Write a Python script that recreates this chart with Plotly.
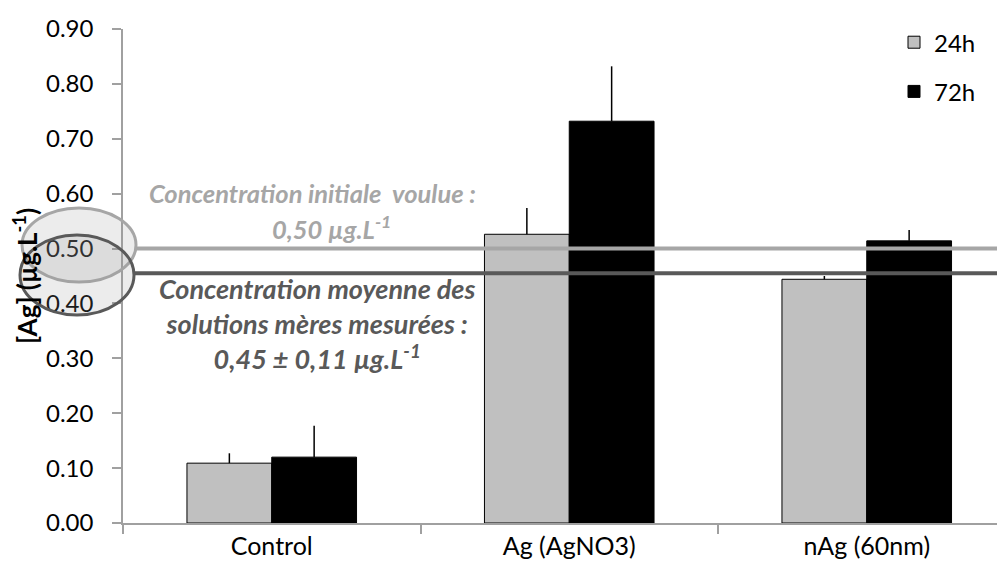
import plotly.graph_objects as go

categories = ["Control", "Ag (AgNO3)", "nAg (60nm)"]
series_names = ["24h", "72h"]
values_24h = [0.109, 0.526, 0.444]
err_24h = [0.018, 0.048, 0.006]
values_72h = [0.120, 0.732, 0.514]
err_72h = [0.057, 0.100, 0.020]
ref_target = 0.50
ref_mean = 0.455
y_ticks = [0.0, 0.1, 0.2, 0.3, 0.4, 0.5, 0.6, 0.7, 0.8, 0.9]

# page body has an 8px default margin: lay the figure out in screen pixels minus that offset
OFF = 8
W, H = 1005 - OFF, 572 - OFF
L, R, T, B = 123 - OFF, 0, 29 - OFF, 49
PW = W - L - R
PH = H - T - B


def px(x):
    return (x - OFF - L) / PW


def py(y):
    return (H - B - (y - OFF)) / PH


FONT = "Lato"
fig = go.Figure()
fig.add_trace(go.Bar(
    x=categories, y=values_24h, name=series_names[0], legendgroup="a",
    marker=dict(color="#c0c0c0", line=dict(color="#000000", width=1)),
    error_y=dict(type="data", array=err_24h, arrayminus=[0] * 3, symmetric=False,
                 color="#000000", thickness=1.5, width=0),
))
fig.add_trace(go.Bar(
    x=categories, y=values_72h, name=series_names[1], legendgroup="b",
    marker=dict(color="#000000", line=dict(color="#000000", width=1)),
    error_y=dict(type="data", array=err_72h, arrayminus=[0] * 3, symmetric=False,
                 color="#000000", thickness=1.5, width=0),
))

# reference lines
fig.add_shape(type="line", xref="paper", yref="y", x0=px(136), x1=1.0,
              y0=ref_target, y1=ref_target, line=dict(color="#a6a6a6", width=4), layer="above")
fig.add_shape(type="line", xref="paper", yref="y", x0=px(134), x1=1.0,
              y0=ref_mean, y1=ref_mean, line=dict(color="#595959", width=4), layer="above")

# ellipses
fig.add_shape(type="circle", xref="paper", yref="paper",
              x0=px(22), x1=px(136), y0=py(282), y1=py(208),
              line=dict(color="#a6a6a6", width=3), fillcolor="rgba(150,150,150,0.18)", layer="above")
fig.add_shape(type="circle", xref="paper", yref="paper",
              x0=px(20), x1=px(134), y0=py(315), y1=py(235),
              line=dict(color="#595959", width=3), fillcolor="rgba(150,150,150,0.18)", layer="above")

ann_light = dict(family=FONT, size=25.5, color="#a6a6a6", weight="bold", style="italic")
ann_dark = dict(family=FONT, size=27, color="#595959", weight="bold", style="italic")
for txt, cx, cy, f in [
    ("Concentration initiale  voulue :", 312, 193, ann_light),
    ("0,50 µg.L<sup>-1</sup>", 331, 227, ann_light),
    ("Concentration moyenne des<br>solutions mères mesurées :<br>0,45 ± 0,11 µg.L<sup>-1</sup>",
     317, 323, ann_dark),
]:
    fig.add_annotation(text=txt, xref="paper", yref="paper", x=px(cx), y=py(cy),
                       xanchor="center", yanchor="middle", align="center",
                       showarrow=False, font=f)

fig.update_layout(
    width=W, height=H,
    margin=dict(l=L, r=R, t=T, b=B, autoexpand=False),
    paper_bgcolor="white", plot_bgcolor="white",
    barmode="group", bargap=0.43, bargroupgap=0,
    font=dict(family=FONT, size=24, color="#000000"),
    legend=dict(x=px(894), y=1.018, xanchor="left", yanchor="top",
                font=dict(family=FONT, size=24), tracegroupgap=15,
                bgcolor="rgba(0,0,0,0)"),
    showlegend=True,
)

fig.update_xaxes(
    type="category", range=[-0.5, 2.5 - 10.5 / 297.5], automargin=False,
    showline=True, linecolor="#a0a0a0", linewidth=1.5,
    ticks="outside", tickson="boundaries", ticklen=9, tickcolor="#a0a0a0", tickwidth=1.5,
    showgrid=False, tickfont=dict(family=FONT, size=25),
)
fig.update_yaxes(
    range=[0, 0.9], tickvals=y_ticks, tickformat=".2f", automargin=False,
    showline=True, linecolor="#a0a0a0", linewidth=1.5,
    ticks="outside", ticklen=9, tickcolor="#a0a0a0", tickwidth=1.5,
    ticklabelstandoff=14,
    showgrid=False, zeroline=False, tickfont=dict(family=FONT, size=24),
    title=dict(text="[Ag] (µg.L<sup>-1</sup>)", font=dict(family=FONT, size=26, weight="bold"),
               standoff=8),
)

fig.write_html("out.html")
